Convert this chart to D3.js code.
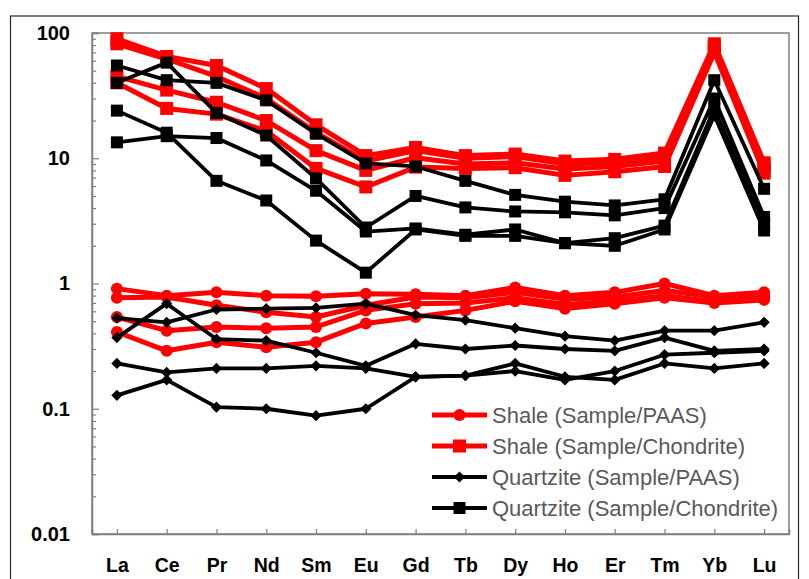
<!DOCTYPE html>
<html>
<head>
<meta charset="utf-8">
<script src="https://cdn.jsdelivr.net/npm/d3@7"></script>
<style>
body{margin:0;background:#fff}
svg{display:block}
</style>
</head>
<body>
<script>
// REE elements on the x axis
const elements=["La","Ce","Pr","Nd","Sm","Eu","Gd","Tb","Dy","Ho","Er","Tm","Yb","Lu"]

// Shale normalised to PAAS
const shalePaas=[
	[0.91,0.80,0.85,0.80,0.79,0.83,0.82,0.80,0.93,0.80,0.85,1.00,0.80,0.85],
	[0.77,0.78,0.67,0.59,0.54,0.67,0.78,0.77,0.85,0.75,0.78,0.88,0.78,0.80],
	[0.54,0.42,0.45,0.44,0.45,0.61,0.69,0.70,0.77,0.68,0.72,0.80,0.72,0.76],
	[0.41,0.29,0.34,0.31,0.34,0.48,0.54,0.61,0.72,0.63,0.69,0.77,0.70,0.74]
]
// Shale normalised to chondrite
const shaleChon=[
	[90,65,55,36,18.5,10.5,12.2,10.5,10.8,9.5,9.8,11,82,9.2],
	[82,62,45,30,16,9.5,11.5,10,10.3,9.0,9.3,10.3,78,8.8],
	[45,35,28,20,11.5,8,10.1,9,9.2,8.2,8.6,9.5,74,8.0],
	[40,25,22.5,16.5,8.3,5.9,8.5,8.3,8.4,7.3,7.8,8.6,70,7.6]
]
// Quartzite normalised to PAAS
const qtzPaas=[
	[0.53,0.49,0.62,0.63,0.64,0.69,0.56,0.51,0.44,0.38,0.35,0.42,0.42,0.49],
	[0.37,0.69,0.36,0.35,0.28,0.22,0.33,0.30,0.32,0.30,0.29,0.37,0.29,0.30],
	[0.23,0.195,0.21,0.21,0.22,0.21,0.18,0.184,0.23,0.18,0.17,0.23,0.21,0.23],
	[0.128,0.17,0.103,0.10,0.088,0.10,0.18,0.184,0.20,0.17,0.20,0.27,0.28,0.29]
]
// Quartzite normalised to chondrite
const qtzChon=[
	[55,42,40,29,15.7,9.1,8.6,6.6,5.1,4.5,4.2,4.7,42,5.7],
	[40,58,23,15.2,6.9,2.8,5.0,4.05,3.76,3.7,3.5,4.0,30,3.4],
	[13.4,15,14.5,9.6,5.5,2.6,2.75,2.45,2.7,2.1,2.3,2.9,25,3.0],
	[24,16,6.6,4.6,2.2,1.22,2.7,2.4,2.4,2.1,2.0,2.7,22,2.65]
]
const legendNames=["Shale (Sample/PAAS)","Shale (Sample/Chondrite)","Quartzite (Sample/PAAS)","Quartzite (Sample/Chondrite)"]
const majorTicks=[0.01,0.1,1,10,100]

const groups=[
	{name:legendNames[0],color:"#ff0000",sym:"circle",width:5,rows:shalePaas},
	{name:legendNames[1],color:"#ff0000",sym:"rsquare",width:5,rows:shaleChon},
	{name:legendNames[2],color:"#000000",sym:"diamond",width:3.8,rows:qtzPaas},
	{name:legendNames[3],color:"#000000",sym:"bsquare",width:3.8,rows:qtzChon}
]

const W=809,H=579
const pLeft=92,pRight=789,pTop=33,pBottom=534
const labelFont="'Liberation Sans',Arial,sans-serif"

const svg=d3.select("body").append("svg").attr("width",W).attr("height",H)

// outer chart frame
svg.append("rect").attr("x",10.5).attr("y",16).attr("width",788).attr("height",580)
	.attr("fill","none").attr("stroke","#262626").attr("stroke-width",1.2)

const x=d3.scalePoint().domain(elements).range([pLeft,pRight]).padding(0.5)
const y=d3.scaleLog().domain([0.01,100]).range([pBottom,pTop])

// plot frame
svg.append("rect").attr("x",pLeft).attr("y",pTop).attr("width",pRight-pLeft).attr("height",pBottom-pTop)
	.attr("fill","none").attr("stroke","#7f7f7f").attr("stroke-width",1.5)

let minors=[]
for(let e=-2;e<2;e++) for(let k=2;k<10;k++) minors.push(k*Math.pow(10,e))

svg.append("g").attr("transform","translate("+pLeft+",0)")
	.call(d3.axisLeft(y).tickValues(minors).tickSize(-4).tickFormat(""))
	.call(g=>g.select(".domain").remove())
	.call(g=>g.selectAll("line").attr("stroke","#7f7f7f").attr("stroke-width",1.2))

svg.append("g").attr("transform","translate("+pLeft+",0)")
	.call(d3.axisLeft(y).tickValues(majorTicks).tickSize(-7).tickPadding(22).tickFormat(d=>String(d)))
	.call(g=>g.select(".domain").attr("stroke","#7f7f7f").attr("stroke-width",1.5))
	.call(g=>g.selectAll("line").attr("stroke","#7f7f7f").attr("stroke-width",1.2))
	.call(g=>g.selectAll("text").attr("font-family",labelFont)
		.attr("font-weight","bold").attr("font-size",20).attr("fill","#000"))

svg.append("g").attr("transform","translate(0,"+pBottom+")")
	.call(d3.axisBottom(x).tickSize(-5).tickPadding(24))
	.call(g=>g.select(".domain").attr("stroke","#7f7f7f").attr("stroke-width",1.5))
	.call(g=>g.selectAll("line").attr("stroke","#7f7f7f").attr("stroke-width",1.2))
	.call(g=>g.selectAll("text").attr("font-family",labelFont)
		.attr("font-weight","bold").attr("font-size",19.5).attr("fill","#000"))

const line=d3.line().x((d,i)=>x(elements[i])).y(d=>y(d))

function drawMarker(sel,sym,color){
	if(sym=="circle"){
		sel.append("circle").attr("r",6).attr("fill",color)
	}else if(sym=="rsquare"){
		sel.append("rect").attr("x",-6.5).attr("y",-6.5).attr("width",13).attr("height",13).attr("fill",color)
	}else if(sym=="bsquare"){
		sel.append("rect").attr("x",-6).attr("y",-6).attr("width",12).attr("height",12).attr("fill",color)
	}else{
		sel.append("path").attr("d",d3.symbol(d3.symbolDiamond2,80)()).attr("fill",color)
	}
}

for(const g of groups){
	const layer=svg.append("g")
	for(const row of g.rows){
		layer.append("path").datum(row)
			.attr("d",line)
			.attr("fill","none")
			.attr("stroke",g.color)
			.attr("stroke-width",g.width)
			.attr("stroke-linejoin","round")
		const pts=layer.selectAll(null).data(row).enter().append("g")
			.attr("transform",(d,i)=>"translate("+x(elements[i])+","+y(d)+")")
		drawMarker(pts,g.sym,g.color)
	}
}

// legend
const lg=svg.append("g")
groups.forEach((g,i)=>{
	const ly=415+i*31
	lg.append("line").attr("x1",432).attr("x2",487).attr("y1",ly).attr("y2",ly)
		.attr("stroke",g.color).attr("stroke-width",g.width)
	const m=lg.append("g").attr("transform","translate(459.5,"+ly+")")
	drawMarker(m,g.sym,g.color)
	lg.append("text").attr("x",492).attr("y",ly).attr("dy","0.35em")
		.attr("font-family",labelFont).attr("font-size",22)
		.attr("fill","#595959").text(g.name)
})
</script>
</body>
</html>
